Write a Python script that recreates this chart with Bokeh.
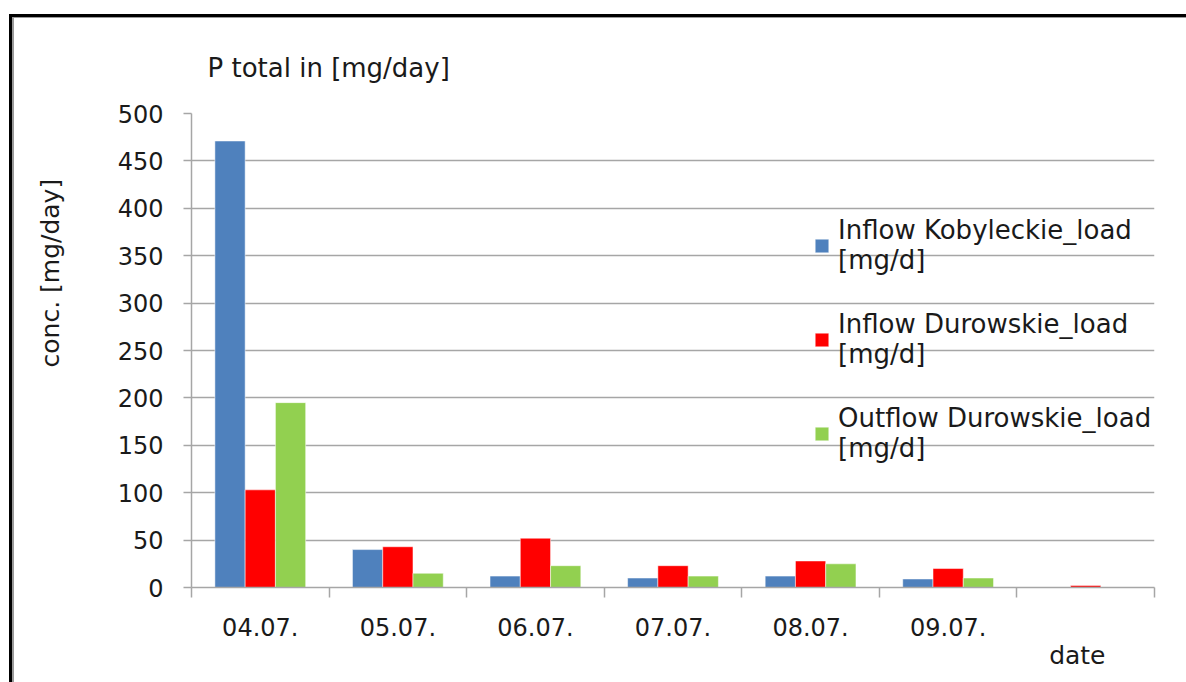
import numpy as np
from bokeh.plotting import figure
from bokeh.models import (Range1d, FixedTicker, LinearAxis, Legend, LegendItem, Title,
                          ColumnDataSource)
from bokeh.transform import dodge
from bokeh.embed import file_html
from bokeh.resources import INLINE

# Sampling dates (the last slot carries no date label)
dates = ["04.07.", "05.07.", "06.07.", "07.07.", "08.07.", "09.07.", ""]

# P total loads in mg/day
inflow_kobyleckie = [471, 40, 12, 10, 12, 9, 0]
inflow_durowskie = [103, 43, 52, 23, 28, 20, 2]
outflow_durowskie = [195, 15, 23, 12, 25, 10, 0]

series_labels = ["Inflow Kobyleckie_load\n[mg/d]",
                 "Inflow Durowskie_load\n[mg/d]",
                 "Outflow Durowskie_load\n[mg/d]"]
series_colors = ["#4F81BD", "#FF0000", "#92D050"]
y_ticks = [0, 50, 100, 150, 200, 250, 300, 350, 400, 450, 500]

FONT = "DejaVu Sans"
GRID = "#a6a6a6"
TEXT = "#1a1a1a"

n = len(dates)
source = ColumnDataSource(dict(
    x=np.arange(n) + 0.5,
    kob=inflow_kobyleckie,
    dur_in=inflow_durowskie,
    dur_out=outflow_durowskie,
))

p = figure(width=1186, height=682, x_range=Range1d(0, n), y_range=Range1d(0, 500),
           output_backend="svg", toolbar_location=None,
           min_border_left=191, min_border_right=32,
           min_border_top=113, min_border_bottom=95)
p.outline_line_color = None
p.background_fill_color = "white"
p.border_fill_color = None
# double-line chart frame along the left and top edges
p.styles = {"box-shadow": "inset 9px 14px 0 0 white, inset 12px 17px 0 0 black, "
                          "inset 14px 18px 0 0 #9a9a9a",
            "background-color": "white"}

bar_w = 0.22
renderers = []
for field, off, col in zip(["kob", "dur_in", "dur_out"], [-bar_w, 0, bar_w], series_colors):
    r = p.vbar(x=dodge("x", off, range=p.x_range), top=field, bottom=0, width=bar_w,
               source=source, fill_color=col, line_color="white", line_alpha=0.5,
               line_width=1)
    renderers.append(r)

# value axis
yax = p.yaxis[0]
yax.ticker = FixedTicker(ticks=y_ticks)
yax.axis_line_color = GRID
yax.axis_line_width = 1.5
yax.major_tick_line_color = GRID
yax.major_tick_line_width = 1.5
yax.major_tick_out = 8
yax.major_tick_in = 0
yax.minor_tick_line_color = None
yax.major_label_text_font = FONT
yax.major_label_text_font_size = "24px"
yax.major_label_text_color = TEXT
yax.major_label_standoff = 20

p.ygrid.ticker = FixedTicker(ticks=y_ticks)
p.ygrid.grid_line_color = GRID
p.ygrid.grid_line_width = 1.5
p.xgrid.visible = False

# date axis: labels at category centres, tick marks on category boundaries
xax = p.xaxis[0]
xax.ticker = FixedTicker(ticks=[i + 0.5 for i, d in enumerate(dates) if d],
                         minor_ticks=list(range(n + 1)))
xax.major_label_overrides = {i + 0.5: d for i, d in enumerate(dates) if d}
xax.axis_line_color = GRID
xax.axis_line_width = 1.5
xax.major_tick_line_color = None
xax.major_tick_out = 10
xax.major_tick_in = 0
xax.minor_tick_line_color = GRID
xax.minor_tick_line_width = 1.5
xax.minor_tick_out = 10
xax.minor_tick_in = 0
xax.major_label_text_font = FONT
xax.major_label_text_font_size = "24px"
xax.major_label_text_color = TEXT
xax.major_label_standoff = 20

legend = Legend(
    items=[LegendItem(label=lab, renderers=[r]) for lab, r in zip(series_labels, renderers)],
    location=(622, 124), border_line_color=None, background_fill_alpha=0,
    label_text_font=FONT, label_text_font_size="26px", label_text_color=TEXT,
    glyph_width=17, glyph_height=17,
    label_standoff=8, spacing=34, padding=0, margin=0,
)
p.add_layout(legend, "center")

# blank strip between the value axis and its caption: one white tick on the
# white margin, with its label switched off
gap_axis = LinearAxis(ticker=FixedTicker(ticks=[0]), axis_line_color=None,
                      major_tick_line_color="white", minor_tick_line_color=None,
                      major_tick_out=45, major_tick_in=0, minor_tick_out=0,
                      major_label_text_color=None, major_label_text_font_size="1px",
                      major_label_standoff=0)
p.add_layout(gap_axis, "left")

# chart title, value-axis caption and category-axis caption
p.add_layout(Title(text="P total in [mg/day]", align="left", offset=16, standoff=62,
                   text_font=FONT, text_font_size="26px", text_font_style="normal",
                   text_color=TEXT), "above")
p.add_layout(Title(text="conc. [mg/day]", align="left", offset=220, standoff=10,
                   text_font=FONT, text_font_size="25px", text_font_style="normal",
                   text_color=TEXT), "left")
p.add_layout(Title(text="date", align="right", offset=49, standoff=0,
                   text_font=FONT, text_font_size="25px", text_font_style="normal",
                   text_color=TEXT), "below")

open("out.html", "w").write(file_html(p, INLINE))
